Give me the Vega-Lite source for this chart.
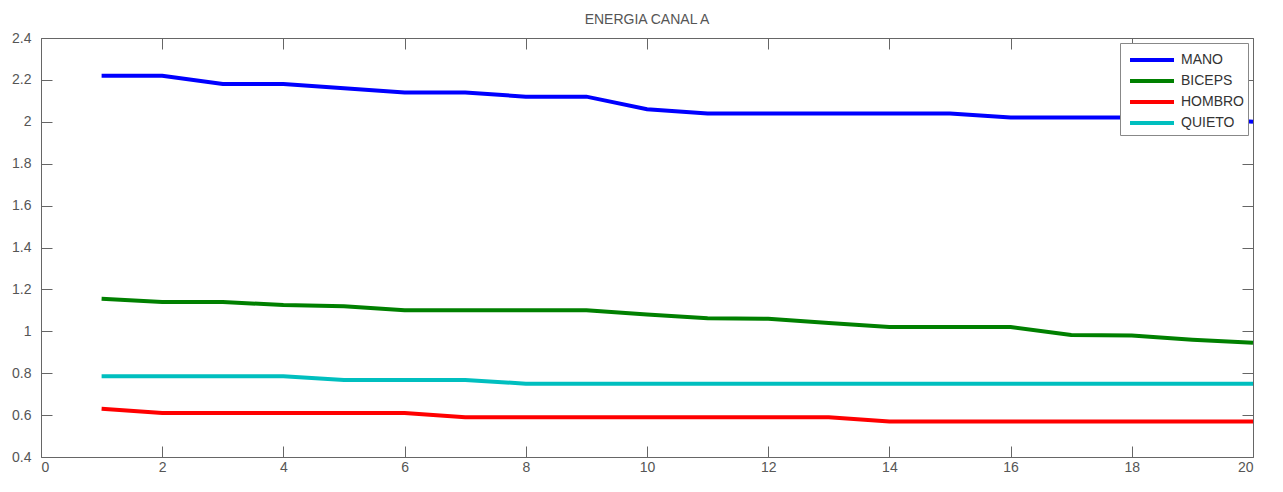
{
  "$schema": "https://vega.github.io/schema/vega-lite/v6.json",
  "width": 1212,
  "height": 419,
  "autosize": {"type": "none"},
  "padding": {"left": 41, "top": 38, "right": 30, "bottom": 35},
  "background": "white",
  "title": {"text": "ENERGIA CANAL A", "font": "Liberation Sans", "fontSize": 14, "fontWeight": "normal", "color": "#555555", "offset": 4, "anchor": "middle"},
  "config": {
    "view": {"stroke": null},
    "axis": {"grid": false, "domainColor": "#666666", "domainWidth": 1, "tickColor": "#666666", "tickWidth": 1, "tickSize": -11, "labelColor": "#555555", "labelFont": "Liberation Sans", "labelFontSize": 14, "title": null}
  },
  "data": {"values": [
    {"x": 1, "v": 2.22, "s": "MANO"}, {"x": 2, "v": 2.22, "s": "MANO"}, {"x": 3, "v": 2.18, "s": "MANO"}, {"x": 4, "v": 2.18, "s": "MANO"}, {"x": 5, "v": 2.16, "s": "MANO"}, {"x": 6, "v": 2.14, "s": "MANO"}, {"x": 7, "v": 2.14, "s": "MANO"}, {"x": 8, "v": 2.12, "s": "MANO"}, {"x": 9, "v": 2.12, "s": "MANO"}, {"x": 10, "v": 2.06, "s": "MANO"}, {"x": 11, "v": 2.04, "s": "MANO"}, {"x": 12, "v": 2.04, "s": "MANO"}, {"x": 13, "v": 2.04, "s": "MANO"}, {"x": 14, "v": 2.04, "s": "MANO"}, {"x": 15, "v": 2.04, "s": "MANO"}, {"x": 16, "v": 2.02, "s": "MANO"}, {"x": 17, "v": 2.02, "s": "MANO"}, {"x": 18, "v": 2.02, "s": "MANO"}, {"x": 19, "v": 2.02, "s": "MANO"}, {"x": 20, "v": 2.0, "s": "MANO"},
    {"x": 1, "v": 1.155, "s": "BICEPS"}, {"x": 2, "v": 1.14, "s": "BICEPS"}, {"x": 3, "v": 1.14, "s": "BICEPS"}, {"x": 4, "v": 1.125, "s": "BICEPS"}, {"x": 5, "v": 1.12, "s": "BICEPS"}, {"x": 6, "v": 1.10, "s": "BICEPS"}, {"x": 7, "v": 1.10, "s": "BICEPS"}, {"x": 8, "v": 1.10, "s": "BICEPS"}, {"x": 9, "v": 1.10, "s": "BICEPS"}, {"x": 10, "v": 1.08, "s": "BICEPS"}, {"x": 11, "v": 1.062, "s": "BICEPS"}, {"x": 12, "v": 1.06, "s": "BICEPS"}, {"x": 13, "v": 1.04, "s": "BICEPS"}, {"x": 14, "v": 1.02, "s": "BICEPS"}, {"x": 15, "v": 1.02, "s": "BICEPS"}, {"x": 16, "v": 1.02, "s": "BICEPS"}, {"x": 17, "v": 0.982, "s": "BICEPS"}, {"x": 18, "v": 0.98, "s": "BICEPS"}, {"x": 19, "v": 0.96, "s": "BICEPS"}, {"x": 20, "v": 0.945, "s": "BICEPS"},
    {"x": 1, "v": 0.63, "s": "HOMBRO"}, {"x": 2, "v": 0.61, "s": "HOMBRO"}, {"x": 3, "v": 0.61, "s": "HOMBRO"}, {"x": 4, "v": 0.61, "s": "HOMBRO"}, {"x": 5, "v": 0.61, "s": "HOMBRO"}, {"x": 6, "v": 0.61, "s": "HOMBRO"}, {"x": 7, "v": 0.59, "s": "HOMBRO"}, {"x": 8, "v": 0.59, "s": "HOMBRO"}, {"x": 9, "v": 0.59, "s": "HOMBRO"}, {"x": 10, "v": 0.59, "s": "HOMBRO"}, {"x": 11, "v": 0.59, "s": "HOMBRO"}, {"x": 12, "v": 0.59, "s": "HOMBRO"}, {"x": 13, "v": 0.59, "s": "HOMBRO"}, {"x": 14, "v": 0.57, "s": "HOMBRO"}, {"x": 15, "v": 0.57, "s": "HOMBRO"}, {"x": 16, "v": 0.57, "s": "HOMBRO"}, {"x": 17, "v": 0.57, "s": "HOMBRO"}, {"x": 18, "v": 0.57, "s": "HOMBRO"}, {"x": 19, "v": 0.57, "s": "HOMBRO"}, {"x": 20, "v": 0.57, "s": "HOMBRO"},
    {"x": 1, "v": 0.785, "s": "QUIETO"}, {"x": 2, "v": 0.785, "s": "QUIETO"}, {"x": 3, "v": 0.785, "s": "QUIETO"}, {"x": 4, "v": 0.785, "s": "QUIETO"}, {"x": 5, "v": 0.768, "s": "QUIETO"}, {"x": 6, "v": 0.768, "s": "QUIETO"}, {"x": 7, "v": 0.768, "s": "QUIETO"}, {"x": 8, "v": 0.75, "s": "QUIETO"}, {"x": 9, "v": 0.75, "s": "QUIETO"}, {"x": 10, "v": 0.75, "s": "QUIETO"}, {"x": 11, "v": 0.75, "s": "QUIETO"}, {"x": 12, "v": 0.75, "s": "QUIETO"}, {"x": 13, "v": 0.75, "s": "QUIETO"}, {"x": 14, "v": 0.75, "s": "QUIETO"}, {"x": 15, "v": 0.75, "s": "QUIETO"}, {"x": 16, "v": 0.75, "s": "QUIETO"}, {"x": 17, "v": 0.75, "s": "QUIETO"}, {"x": 18, "v": 0.75, "s": "QUIETO"}, {"x": 19, "v": 0.75, "s": "QUIETO"}, {"x": 20, "v": 0.75, "s": "QUIETO"}
  ]},
  "layer": [
    {
      "mark": {"type": "line", "strokeWidth": 4},
      "encoding": {
        "x": {"field": "x", "type": "quantitative", "scale": {"domain": [0, 20], "nice": false, "zero": false}, "axis": {"orient": "bottom", "values": [0, 2, 4, 6, 8, 10, 12, 14, 16, 18, 20], "labelPadding": 14}},
        "y": {"field": "v", "type": "quantitative", "scale": {"domain": [0.4, 2.4], "nice": false, "zero": false}, "axis": {"orient": "left", "values": [0.4, 0.6, 0.8, 1, 1.2, 1.4, 1.6, 1.8, 2, 2.2, 2.4], "format": "~g", "labelPadding": 21}},
        "color": {"field": "s", "type": "nominal", "sort": ["MANO", "BICEPS", "HOMBRO", "QUIETO"], "scale": {"domain": ["MANO", "BICEPS", "HOMBRO", "QUIETO"], "range": ["#0000ff", "#008000", "#ff0000", "#00bfbf"]},
          "legend": {"title": null, "orient": "top-right", "offset": 5, "padding": 4, "fillColor": "white", "strokeColor": "#888888", "symbolType": "M-0.636,0H3.364", "symbolSize": 484, "symbolStrokeWidth": 4, "labelFont": "Liberation Sans", "labelFontSize": 14, "labelColor": "#333333", "labelOffset": 31, "rowPadding": 0}}
      }
    },
    {
      "mark": {"type": "line", "strokeOpacity": 0},
      "encoding": {
        "x": {"field": "x", "type": "quantitative", "axis": {"orient": "top", "labels": false, "values": [0, 2, 4, 6, 8, 10, 12, 14, 16, 18, 20]}},
        "y": {"field": "v", "type": "quantitative", "axis": {"orient": "right", "labels": false, "values": [0.4, 0.6, 0.8, 1, 1.2, 1.4, 1.6, 1.8, 2, 2.2, 2.4]}},
        "detail": {"field": "s"}
      }
    }
  ],
  "resolve": {"axis": {"x": "independent", "y": "independent"}}
}
